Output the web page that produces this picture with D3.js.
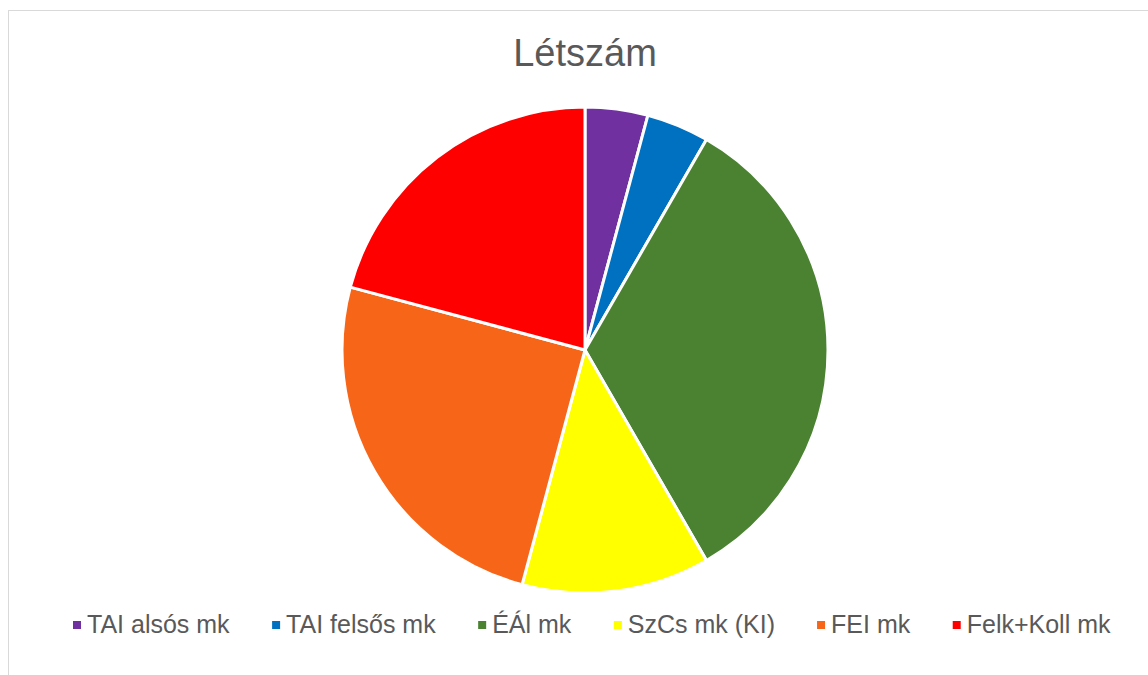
<!DOCTYPE html>
<html><head><meta charset="utf-8">
<script src="https://cdn.jsdelivr.net/npm/d3@7"></script>
<style>body{margin:0;background:#fff;font-family:"Liberation Sans",Arial,sans-serif;}</style>
</head><body>
<svg id="c" width="1148" height="675"></svg>
<script>
const categories = ["TAI alsós mk","TAI felsős mk","ÉÁl mk","SzCs mk (KI)","FEI mk","Felk+Koll mk"];
const values = [1,1,8,3,6,5];
const colors = ["#7030A0","#0070C0","#4A8232","#FFFF00","#F76518","#FF0000"];
const title = "Létszám";

const svg = d3.select("#c");
svg.append("rect").attr("x",8.5).attr("y",10.5).attr("width",1160).attr("height",700)
  .attr("fill","#fff").attr("stroke","#d9d9d9").attr("stroke-width",1);

svg.append("text").attr("x",585).attr("y",66).attr("text-anchor","middle")
  .attr("font-size",38).attr("fill","#595959").text(title);

const cx=585, cy=350, r=243;
const pie = d3.pie().sort(null).value(d=>d)(values);
const arc = d3.arc().innerRadius(0).outerRadius(r);
const g = svg.append("g").attr("transform",`translate(${cx},${cy})`);
g.selectAll("path").data(pie).join("path").attr("d",arc)
  .attr("fill",(d,i)=>colors[i]).attr("stroke","#fff").attr("stroke-width",3).attr("stroke-linejoin","round");

// legend
const lg = svg.append("g");
const items = lg.selectAll("g").data(categories).join("g");
items.append("rect").attr("width",8).attr("height",8).attr("y",-4).attr("fill",(d,i)=>colors[i]);
items.append("text").attr("x",14).attr("y",8).attr("font-size",25).attr("fill","#595959").text(d=>d);
let widths=[]; items.each(function(){ widths.push(this.getBBox().width); });
const spanL=73, spanR=1111;
const gap=(spanR-spanL-d3.sum(widths))/(widths.length-1);
let x=spanL;
items.attr("transform",(d,i)=>{const t=`translate(${x},625)`; x+=widths[i]+gap; return t;});
</script>
</body></html>
